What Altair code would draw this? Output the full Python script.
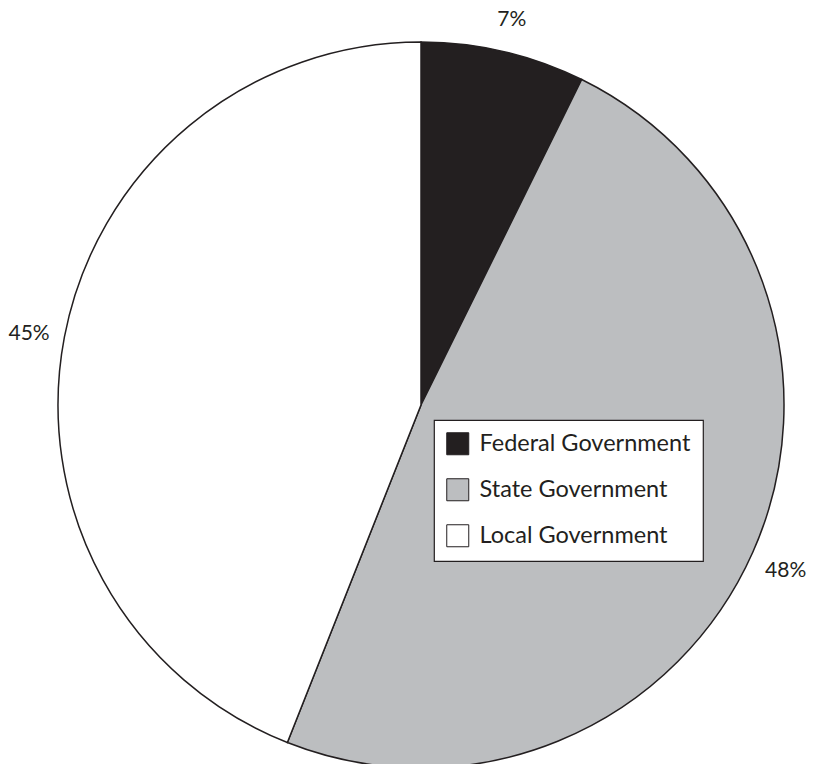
import altair as alt
import pandas as pd

categories = ["Federal Government", "State Government", "Local Government"]
shares = [7.3, 48.7, 44.0]          # slice sizes as drawn
labels = ["7%", "48%", "45%"]       # printed labels
order = [1, 2, 3]
colors = ["#231f20", "#bcbec0", "#ffffff"]

df = pd.DataFrame({"category": categories, "share": shares, "label": labels, "order": order})

CX, CY = 413, 397
FONT = "Lato"

base = alt.Chart(df).encode(
    theta=alt.Theta("share:Q", stack=True),
    order=alt.Order("order:Q"),
    x=alt.value(CX),
    y=alt.value(CY),
)

arcs = base.mark_arc(radius=363, stroke="#231f20", strokeWidth=1.5).encode(
    color=alt.Color(
        "category:N",
        scale=alt.Scale(domain=categories, range=colors),
        sort=categories,
        legend=alt.Legend(
            title=None,
            orient="none",
            legendX=426,
            legendY=412,
            direction="vertical",
            symbolType="square",
            symbolSize=484,
            symbolStrokeColor="#231f20",
            symbolStrokeWidth=1,
            symbolOpacity=1,
            labelFont=FONT,
            labelFontSize=23.5,
            labelColor="#231f20",
            labelOffset=10,
            labelLimit=400,
            rowPadding=19,
            padding=12,
            strokeColor="#231f20",
            fillColor="#ffffff",
        ),
    )
)

text = base.mark_text(radius=399, dy=4, font=FONT, fontSize=21, color="#231f20").encode(
    text="label:N"
)

chart = (
    (arcs + text)
    .properties(width=807, height=756, autosize="none", padding=0)
    .configure_view(stroke=None)
    .configure_legend(strokeWidth=1.2)
)

chart.save("out.html", embed_options={"renderer": "svg", "actions": False})
